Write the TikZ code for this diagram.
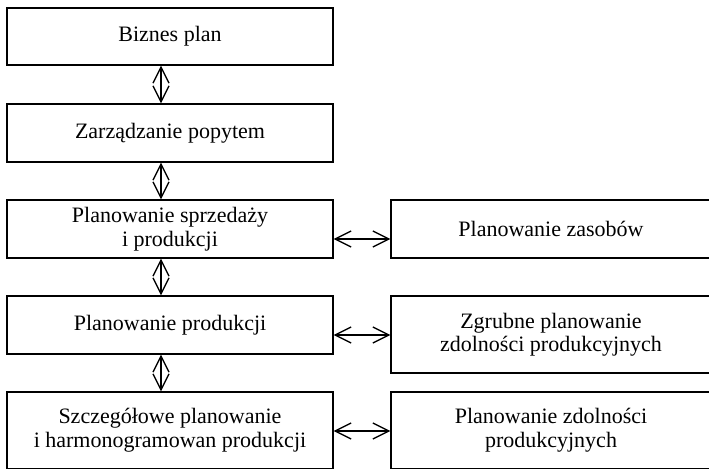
\documentclass[tikz,border=0pt]{standalone}
\usepackage{fontspec}
\setmainfont{Liberation Serif}
\usetikzlibrary{arrows.meta}
\begin{document}
\begin{tikzpicture}[x=1pt,y=-1pt,
  box/.style={draw, line width=1.4pt, rectangle, inner sep=0pt, align=center,
    font=\fontsize{22}{23.5}\selectfont},
  link/.style={line width=1.3pt,
    {Straight Barb[length=16pt,width=16pt,line width=1.3pt]}-{Straight Barb[length=16pt,width=16pt,line width=1.3pt]}}]
\useasboundingbox (0,0) rectangle (709,469);
\clip (0,0) rectangle (709,469);
% left column
\node[box, minimum width=326pt, minimum height=57pt] (b1) at (170,36.5) {Biznes plan};
\node[box, minimum width=326pt, minimum height=58pt] (b2) at (170,133) {Zarządzanie popytem};
\node[box, minimum width=326pt, minimum height=58pt] (b3) at (170,229) {Planowanie sprzedaży\\i produkcji};
\node[box, minimum width=326pt, minimum height=58pt] (b4) at (170,325) {Planowanie produkcji};
\node[box, minimum width=326pt, minimum height=76.5pt] (b5) at (170,430.25) {Szczegółowe planowanie\\i harmonogramowan produkcji};
% right column
\node[box, minimum width=320pt, minimum height=58pt] (r1) at (551,229) {Planowanie zasobów};
\node[box, minimum width=320pt, minimum height=77pt] (r2) at (551,334.5) {Zgrubne planowanie\\zdolności produkcyjnych};
\node[box, minimum width=320pt, minimum height=76.5pt] (r3) at (551,430.25) {Planowanie zdolności\\produkcyjnych};
% connector positions
\coordinate (ax) at (161,0);
\coordinate (h1) at (0,239);
\coordinate (h2) at (0,335);
\coordinate (h3) at (0,431);
% vertical connectors
\draw[link] (b1.south -| ax) -- (b2.north -| ax);
\draw[link] (b2.south -| ax) -- (b3.north -| ax);
\draw[link] (b3.south -| ax) -- (b4.north -| ax);
\draw[link] (b4.south -| ax) -- (b5.north -| ax);
% horizontal connectors
\draw[link] (b3.east |- h1) -- (r1.west |- h1);
\draw[link] (b4.east |- h2) -- (r2.west |- h2);
\draw[link] (b5.east |- h3) -- (r3.west |- h3);
\end{tikzpicture}
\end{document}
